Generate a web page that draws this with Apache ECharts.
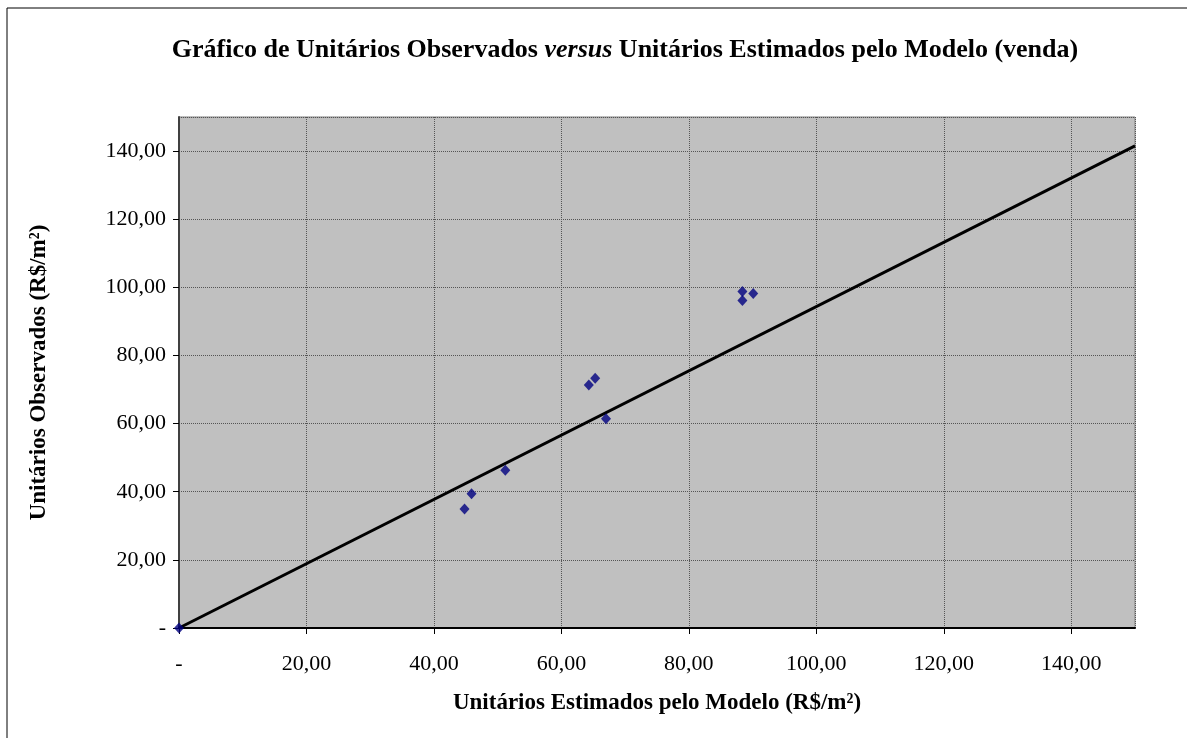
<!DOCTYPE html>
<html>
<head>
<meta charset="utf-8">
<script src="https://cdn.jsdelivr.net/npm/echarts@6/dist/echarts.min.js"></script>
<style>
  html, body { margin: 0; padding: 0; background: #fff; }
  #chart { width: 1187px; height: 738px; }
</style>
</head>
<body>
<div id="chart"></div>
<script>
// pontos observados x estimados
var estimados = [0, 44.8, 45.9, 51.2, 64.3, 65.3, 67.0, 88.4, 88.4, 90.1];
var observados = [0, 34.9, 39.4, 46.3, 71.3, 73.3, 61.4, 98.8, 96.1, 98.2];
// reta de ajuste
var retaX = [0, 150];
var retaY = [0, 141.5];

var pontos = [];
for (var i = 0; i < estimados.length; i++) {
  pontos.push([estimados[i], observados[i]]);
}
var reta = [];
for (var j = 0; j < retaX.length; j++) {
  reta.push([retaX[j], retaY[j]]);
}

function fmt(v) {
  if (v === 0) return '-';
  return v.toFixed(2).replace('.', ',');
}

var serif = '"Liberation Serif", "Times New Roman", serif';

var myChart = echarts.init(document.getElementById('chart'));
var option = {
  backgroundColor: '#ffffff',
  animation: false,
  title: {
    text: '{b|Gráfico de Unitários Observados }{i|versus}{b| Unitários Estimados pelo Modelo (venda)}',
    left: 620,
    top: 32,
    textAlign: 'center',
    textStyle: {
      rich: {
        b: { fontFamily: serif, fontWeight: 'bold', fontSize: 26, color: '#000' },
        i: { fontFamily: serif, fontWeight: 'bold', fontStyle: 'italic', fontSize: 26, color: '#000' }
      }
    }
  },
  graphic: [
    { type: 'line', shape: { x1: 7, y1: 8, x2: 1187, y2: 8 }, style: { stroke: '#000', lineWidth: 1 } },
    { type: 'line', shape: { x1: 7, y1: 8, x2: 7, y2: 738 }, style: { stroke: '#000', lineWidth: 1 } }
  ],
  grid: {
    left: 179,
    right: 52,
    top: 117,
    bottom: 110,
    show: true,
    backgroundColor: '#c0c0c0',
    borderColor: '#808080',
    borderWidth: 1
  },
  xAxis: {
    type: 'value',
    min: 0,
    max: 150,
    interval: 20,
    name: 'Unitários Estimados pelo Modelo (R$/m²)',
    nameLocation: 'middle',
    nameGap: 64,
    nameTextStyle: { fontFamily: serif, fontWeight: 'bold', fontSize: 23, color: '#000' },
    axisLine: { show: true, onZero: false, lineStyle: { color: '#000', width: 2 } },
    axisTick: { show: true, length: 6, lineStyle: { color: '#000' } },
    axisLabel: { formatter: fmt, fontFamily: serif, fontSize: 22, color: '#000', margin: 25, showMaxLabel: false },
    splitLine: { show: true, lineStyle: { color: '#555', type: 'dotted', width: 1 } }
  },
  yAxis: {
    type: 'value',
    min: 0,
    max: 150,
    interval: 20,
    name: 'Unitários Observados (R$/m²)',
    nameLocation: 'middle',
    nameRotate: 90,
    nameGap: 128,
    nameTextStyle: { fontFamily: serif, fontWeight: 'bold', fontSize: 23, color: '#000' },
    axisLine: { show: true, onZero: false, lineStyle: { color: '#404040', width: 2 } },
    axisTick: { show: true, length: 6, lineStyle: { color: '#000' } },
    axisLabel: { formatter: fmt, fontFamily: serif, fontSize: 22, color: '#000', margin: 13, showMaxLabel: false },
    splitLine: { show: true, lineStyle: { color: '#555', type: 'dotted', width: 1 } }
  },
  series: [
    {
      name: 'Reta',
      type: 'line',
      data: reta,
      symbol: 'none',
      lineStyle: { color: '#000', width: 3 },
      z: 3
    },
    {
      name: 'Observados',
      type: 'scatter',
      data: pontos,
      symbol: 'diamond',
      symbolSize: [10, 11],
      itemStyle: { color: '#000080' },
      z: 4
    }
  ]
};
myChart.setOption(option);
</script>
</body>
</html>
